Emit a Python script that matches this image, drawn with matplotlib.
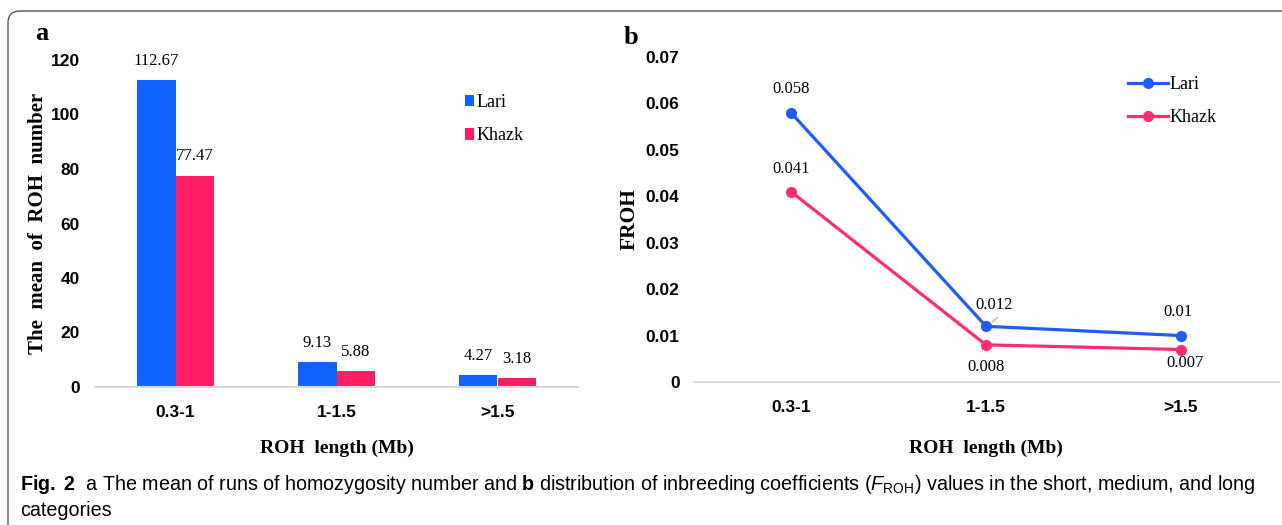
import matplotlib
matplotlib.use("Agg")
import matplotlib.pyplot as plt
from matplotlib.patches import FancyBboxPatch
import numpy as np

# data
categories = ["0.3-1", "1-1.5", ">1.5"]
groups = ["Lari", "Khazk"]
roh_mean_lari = [112.67, 9.13, 4.27]
roh_mean_khazk = [77.47, 5.88, 3.18]
froh_lari = [0.058, 0.012, 0.01]
froh_khazk = [0.041, 0.008, 0.007]
bar_labels_lari = ["112.67", "9.13", "4.27"]
bar_labels_khazk = ["77.47", "5.88", "3.18"]
froh_labels_lari = ["0.058", "0.012", "0.01"]
froh_labels_khazk = ["0.041", "0.008", "0.007"]

blue_bar = "#1163ff"
pink_bar = "#ff1e64"
blue_line = "#1f5cff"
pink_line = "#ff2d6e"

serif = "Liberation Serif"
sans = "Liberation Sans"

plt.rcParams["mathtext.fontset"] = "custom"
plt.rcParams["mathtext.rm"] = "Liberation Sans"
plt.rcParams["mathtext.bf"] = "Liberation Sans:bold"
plt.rcParams["mathtext.it"] = "Liberation Sans:italic"

fig = plt.figure(figsize=(12.82, 5.25), dpi=100)

# outer frame (pixel coords, runs off right and bottom edges)
frame = FancyBboxPatch((8, -40), 1400, 554, boxstyle="round,pad=0,rounding_size=12",
                       transform=None, fill=False, edgecolor="#555555", linewidth=1.0)
fig.patches.append(frame)

x = np.arange(len(categories))

# ---- panel a
axa = fig.add_axes([95 / 1282, 1 - 387 / 525, 483 / 1282, 327 / 525])
w = 0.24
axa.bar(x - w / 2, roh_mean_lari, w, color=blue_bar, label=groups[0])
axa.bar(x + w / 2, roh_mean_khazk, w, color=pink_bar, label=groups[1])
for i in range(len(categories)):
    axa.annotate(bar_labels_lari[i], (x[i] - w / 2, roh_mean_lari[i]), xytext=(0, 14),
                 textcoords="offset points", ha="center", va="center", family=serif, fontsize=12)
    axa.annotate(bar_labels_khazk[i], (x[i] + w / 2, roh_mean_khazk[i]), xytext=(0, 14),
                 textcoords="offset points", ha="center", va="center", family=serif, fontsize=12)
axa.set_xlim(-0.5, 2.5)
axa.set_ylim(0, 120)
axa.set_yticks([0, 20, 40, 60, 80, 100, 120])
axa.set_xticks(x)
axa.set_xticklabels(categories)
axa.tick_params(length=0, labelsize=12.5)
axa.tick_params(axis="y", pad=11)
axa.tick_params(axis="x", pad=13)
for lab in axa.get_xticklabels() + axa.get_yticklabels():
    lab.set_family(sans)
    lab.set_fontweight("bold")
for s in ["top", "right", "left"]:
    axa.spines[s].set_visible(False)
axa.spines["bottom"].set_color("#d9d9d9")
axa.spines["bottom"].set_linewidth(1.5)
axa.set_xlabel("ROH  length (Mb)", family=serif, fontweight="bold", fontsize=14, labelpad=14)
axa.set_ylabel("The  mean  of  ROH  number", family=serif, fontweight="bold", fontsize=15, labelpad=2)
axa.legend(loc="upper left", bbox_to_anchor=(465 / 1282, 1 - 94 / 525), bbox_transform=fig.transFigure,
           frameon=False, prop={"family": serif, "size": 13}, handlelength=0.5, handleheight=0.6,
           handletextpad=0.15, labelspacing=0.9, borderpad=0, borderaxespad=0)
fig.text(42 / 1282, 1 - 33 / 525, "a", family=serif, fontweight="bold", fontsize=19, ha="center", va="center")

# ---- panel b
axb = fig.add_axes([693.5 / 1282, 1 - 382 / 525, 585 / 1282, 325 / 525])
axb.plot(x, froh_lari, color=blue_line, lw=2.3, marker="o", ms=7, label=groups[0])
axb.plot(x, froh_khazk, color=pink_line, lw=2.3, marker="o", ms=7, label=groups[1])
offs_lari = [(0, 17), (6, 15), (-2, 17)]
offs_khazk = [(0, 16), (0, -16), (3, -10)]
for i in range(len(categories)):
    axb.annotate(froh_labels_lari[i], (x[i], froh_lari[i]), xytext=offs_lari[i],
                 textcoords="offset points", ha="center", va="center", family=serif, fontsize=12)
    axb.annotate(froh_labels_khazk[i], (x[i], froh_khazk[i]), xytext=offs_khazk[i],
                 textcoords="offset points", ha="center", va="center", family=serif, fontsize=12)
# small leader line for 0.012
axb.annotate("", (x[1] + 0.02, froh_lari[1] + 0.0005), xytext=(x[1] + 0.07, froh_lari[1] + 0.0023),
             arrowprops=dict(arrowstyle="-", color="#aaaaaa", lw=0.8))
axb.set_xlim(-0.5, 2.5)
axb.set_ylim(0, 0.07)
axb.set_yticks([0, 0.01, 0.02, 0.03, 0.04, 0.05, 0.06, 0.07])
axb.set_yticklabels(["0", "0.01", "0.02", "0.03", "0.04", "0.05", "0.06", "0.07"])
axb.set_xticks(x)
axb.set_xticklabels(categories)
axb.tick_params(length=0, labelsize=12.5)
axb.tick_params(axis="y", pad=10)
axb.tick_params(axis="x", pad=13)
for lab in axb.get_xticklabels() + axb.get_yticklabels():
    lab.set_family(sans)
    lab.set_fontweight("bold")
for s in ["top", "right", "left"]:
    axb.spines[s].set_visible(False)
axb.spines["bottom"].set_color("#d9d9d9")
axb.spines["bottom"].set_linewidth(1.5)
axb.set_xlabel("ROH  length (Mb)", family=serif, fontweight="bold", fontsize=14, labelpad=18)
axb.set_ylabel("FROH", family=serif, fontweight="bold", fontsize=15.5, labelpad=4)
axb.legend(loc="upper left", bbox_to_anchor=(1128 / 1282, 1 - 76 / 525), bbox_transform=fig.transFigure,
           frameon=False, prop={"family": serif, "size": 13}, handlelength=2.2,
           handletextpad=0.1, labelspacing=0.9, borderpad=0, borderaxespad=0)
fig.text(631 / 1282, 1 - 38 / 525, "b", family=serif, fontweight="bold", fontsize=19, ha="center", va="center")

# ---- caption
cap1 = (r"$\bf{Fig.\ 2}$  a The mean of runs of homozygosity number and $\bf{b}$ distribution of inbreeding "
        r"coefficients ($F_{\rm ROH}$) values in the short, medium, and long")
fig.text(20 / 1282, 1 - 484 / 525, cap1, family=sans, fontsize=14.2, ha="left", va="center")
fig.text(20 / 1282, 1 - 511 / 525, "categories", family=sans, fontsize=14.2, ha="left", va="center")

fig.savefig("out.png", dpi=100)
